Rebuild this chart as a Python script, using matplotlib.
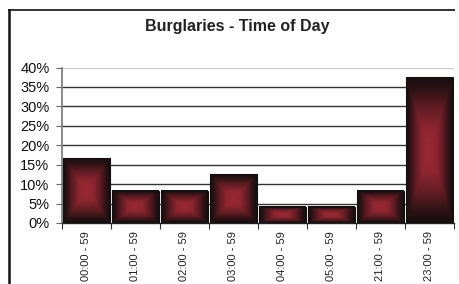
import numpy as np
import matplotlib
matplotlib.use("Agg")
import matplotlib.pyplot as plt
from matplotlib.patches import Rectangle
from matplotlib.lines import Line2D
from matplotlib.colors import LinearSegmentedColormap
from matplotlib.ticker import FuncFormatter

# Burglaries by hour of day (share of total)
time_slots = ["00:00 - 59", "01:00 - 59", "02:00 - 59", "03:00 - 59",
              "04:00 - 59", "05:00 - 59", "21:00 - 59", "23:00 - 59"]
share = [16.7, 8.3, 8.3, 12.5, 4.2, 4.2, 8.3, 37.5]
y_ticks = [0, 5, 10, 15, 20, 25, 30, 35, 40]

W, H = 460, 284
fig = plt.figure(figsize=(W / 100, H / 100), dpi=100)
fig.patch.set_facecolor("white")

# chart frame: only left and top edges are inside the image
fig.add_artist(Line2D([8.5 / W, 8.5 / W], [0, 1 - 9.5 / H],
                      transform=fig.transFigure, color="#111111", linewidth=1.8))
fig.add_artist(Line2D([7.6 / W, 0.99], [1 - 9.5 / H, 1 - 9.5 / H],
                      transform=fig.transFigure, color="#111111", linewidth=1.2,
                      solid_capstyle="butt"))

ax = fig.add_axes([62 / W, 1 - 223 / H, (454 - 62) / W, (223 - 67.5) / H])

# gridlines
for y in y_ticks[1:-1]:
    ax.axhline(y, color="#333333", linewidth=1.0, zorder=1)
ax.axhline(40, color="#c8c8c8", linewidth=1.6, zorder=1)

# rectangular "shade from centre" fill for the bars
cmap = LinearSegmentedColormap.from_list(
    "burg", [(0.0, "#9a2832"), (0.3, "#8e2630"), (0.6, "#5e1c22"),
             (0.85, "#2a1214"), (1.0, "#140f0f")])
n = 200
u = np.linspace(-1, 1, n)
U, V = np.meshgrid(u, u)
grad = np.maximum(np.abs(U), np.abs(V))

bw = 0.95
for i, v in enumerate(share):
    x0 = i - bw / 2
    ax.imshow(grad, cmap=cmap, vmin=0, vmax=1, extent=[x0, x0 + bw, 0, v],
              aspect="auto", interpolation="bilinear", zorder=2)
    ax.add_patch(Rectangle((x0, 0), bw, v, fill=False, edgecolor="#111111",
                           linewidth=0.8, zorder=3))
ax.set_xlim(-0.5, len(share) - 0.5)
ax.set_ylim(0, 40)

ax.set_yticks(y_ticks)
ax.yaxis.set_major_formatter(FuncFormatter(lambda v, p: f"{int(v)}%"))
ax.tick_params(axis="y", length=4, width=0.8, color="#666666",
               labelsize=10.5, pad=5, labelcolor="#111111")

ax.set_xticks(np.arange(len(share)))
ax.set_xticklabels(time_slots, rotation=90, fontsize=8, color="#222222")
ax.set_xticks(np.arange(len(share) + 1) - 0.5, minor=True)
ax.tick_params(axis="x", which="major", length=0, pad=6)
ax.tick_params(axis="x", which="minor", length=4, width=0.8, color="#333333")

for s in ["top", "right"]:
    ax.spines[s].set_visible(False)
ax.spines["left"].set_color("#777777")
ax.spines["left"].set_linewidth(1.2)
ax.spines["bottom"].set_color("#222222")
ax.spines["bottom"].set_linewidth(1.0)

fig.text(0.5 + 7 / W, 1 - 26 / H, "Burglaries - Time of Day", ha="center",
         va="center", fontsize=11.5, fontweight="bold", color="#222222",
         family="Liberation Sans")
for lbl in ax.get_xticklabels() + ax.get_yticklabels():
    lbl.set_family("Liberation Sans")

fig.savefig("out.png", dpi=100)
